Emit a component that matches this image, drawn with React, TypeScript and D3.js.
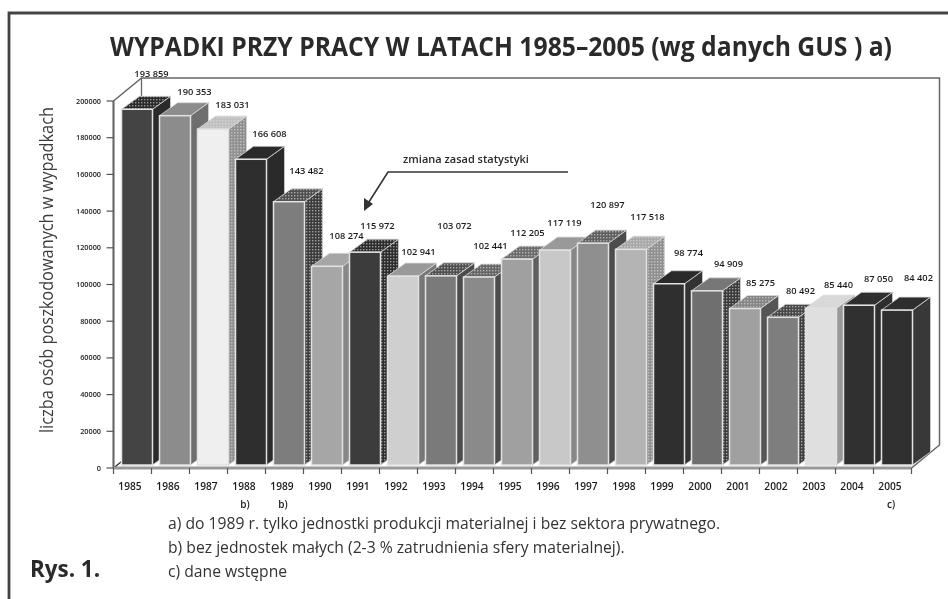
import React from "react";
import * as d3 from "d3";

const years = ["1985","1986","1987","1988","1989","1990","1991","1992","1993","1994","1995","1996","1997","1998","1999","2000","2001","2002","2003","2004","2005"];
const values = [193859,190353,183031,166608,143482,108274,115972,102941,103072,102441,112205,117119,120897,117518,98774,94909,85275,80492,85440,87050,84402];
const valueLabels = ["193 859","190 353","183 031","166 608","143 482","108 274","115 972","102 941","103 072","102 441","112 205","117 119","120 897","117 518","98 774","94 909","85 275","80 492","85 440","87 050","84 402"];
const frontColors = ["#444","#8c8c8c","#efefef","#2e2e2e","#7d7d7d","#a6a6a6","#3c3c3c","#cfcfcf","#7a7a7a","#8a8a8a","#a0a0a0","#c8c8c8","#8f8f8f","#b4b4b4","#2f2f2f","#6f6f6f","#a0a0a0","#7e7e7e","#dfdfdf","#303030","#303030"];
const topColors = ["#2a2a2a","#8c8c8c","#c0c0c0","#2a2a2a","#505050","#a6a6a6","#2e2e2e","#999","#505050","#666","#6c6c6c","#999","#606060","#a8a8a8","#2a2a2a","#777","#858585","#484848","#d8d8d8","#2e2e2e","#2e2e2e"];
const sideColors = ["#2a2a2a","#6e6e6e","#909090","#2a2a2a","#3c3c3c","#888","#2e2e2e","#777","#4c4c4c","#4c4c4c","#606060","#888","#4c4c4c","#909090","#333","#3c3c3c","#555","#404040","#999","#2e2e2e","#383838"];
const dottedTop = [1,0,1,0,1,0,1,0,1,1,1,0,1,1,0,0,1,1,1,0,0];
const dottedSide = [0,0,1,0,1,0,1,0,0,0,0,0,0,1,0,1,0,1,0,0,0];
const labelDx = [14.5,19.5,19.5,18.5,17.5,19.5,12.5,15.5,13.5,11.5,10.5,9.5,14.5,16.5,19.5,21.5,15.5,17.5,17.5,19.5,21.5];
const labelDy = [-35,-24,-24,-25,-31,-30,-26,-24,-50,-31,-26,-27,-38,-32,-31,-27,-25.5,-26,-23,-26,-32];
const yTicks = [0,20000,40000,60000,80000,100000,120000,140000,160000,180000,200000];
const yearNotes: Record<string,string> = { "1988": "b)", "1989": "b)", "2005": "c)" };
const footnotes = [
  "a) do 1989 r. tylko jednostki produkcji materialnej i bez sektora prywatnego.",
  "b) bez jednostek małych (2-3 % zatrudnienia sfery materialnej).",
  "c) dane wstępne",
];
const TITLE = "WYPADKI PRZY PRACY W LATACH 1985–2005 (wg  danych GUS ) a)";
const YTITLE = "liczba osób poszkodowanych w wypadkach";

const FONT = "'Open Sans', sans-serif";
const x = d3.scaleBand<string>().domain(years).range([113.5, 911.5]);
const y = d3.scaleLinear().domain([0, 200000]).range([468, 101]);
const wallDx = 28, wallDy = 23;
const depthDx = 18, depthDy = 13;
const barInset = 8, barW = 31, lift = 3;
const pts = (p: number[][]) => p.map((q) => q.join(",")).join(" ");

export default function App() {
  const x0 = x.range()[0], x1 = x.range()[1], y0 = y(0), yT = y(200000);
  return (
    <svg width={948} height={599} style={{ position: "absolute", left: 0, top: 0, background: "#fff", filter: "blur(0.6px)" }} fontFamily={FONT}>
      <defs>
        <pattern id="dots" width="3" height="3" patternUnits="userSpaceOnUse">
          <rect x="0" y="0" width="1.4" height="1.4" fill="#e0e0e0" fillOpacity="0.6" />
        </pattern>
      </defs>
      <g>
        <path d="M948,13H9V599" fill="none" stroke="#444" strokeWidth={2.8} />
        <text x={110} y={56} fontSize={26.5} fontWeight={700} fill="#2a2a2a" textLength={782} lengthAdjust="spacingAndGlyphs">{TITLE}</text>

        <path d={`M${x0},${yT}L${x0 + wallDx},${yT - wallDy}H${x1 + wallDx}V${y0 - wallDy}L${x1},${y0}H${x0}Z`} fill="none" stroke="#666" strokeWidth={1.5} />
        <path d={`M${x0 + wallDx},${yT - wallDy}V${y0 - wallDy}`} fill="none" stroke="#666" strokeWidth={1.3} />
        <path d={`M${x0},${yT}V${y0}`} stroke="#666" strokeWidth={1.8} />
        <path d={`M${x0},${y0}L${x0 + 10},${y0 - 8}`} stroke="#333" strokeWidth={1.5} />
        <path d={`M${x0},${y0}H${x1}`} stroke="#999" strokeWidth={3} />

        {yTicks.map((t) => (
          <g key={t}>
            <line x1={106.5} x2={x0} y1={y(t)} y2={y(t)} stroke="#555" strokeWidth={1.2} />
            <text x={101} y={y(t) + 2.5} textAnchor="end" fontSize={7.3} fontWeight={600} fill="#222">{t}</text>
          </g>
        ))}
        {[...years, ""].map((yr, i) => {
          const tx = x0 + i * x.bandwidth();
          return <line key={i} x1={tx} x2={tx} y1={y0} y2={y0 + 6} stroke="#555" strokeWidth={1.2} />;
        })}

        {years.map((yr, i) => {
          const l = (x(yr) as number) + barInset;
          const r = l + barW;
          const t = y(values[i]) - lift;
          const b = y0 - lift;
          const top = [[l, t], [r, t], [r + depthDx, t - depthDy], [l + depthDx, t - depthDy]];
          const side = [[r, t], [r + depthDx, t - depthDy], [r + depthDx, b - depthDy], [r, b]];
          return (
            <g key={yr}>
              <polygon points={pts(side)} fill={sideColors[i]} stroke="#d0d0d0" strokeWidth={0.8} />
              {dottedSide[i] ? <polygon points={pts(side)} fill="url(#dots)" /> : null}
              <polygon points={pts(top)} fill={topColors[i]} stroke="#d8d8d8" strokeWidth={0.8} />
              {dottedTop[i] ? <polygon points={pts(top)} fill="url(#dots)" /> : null}
              <rect x={l} y={t} width={barW} height={b - t} fill={frontColors[i]} stroke="#e2e2e2" strokeWidth={1.5} />
            </g>
          );
        })}

        {years.map((yr, i) => {
          const cx = (x(yr) as number) + barInset + barW / 2;
          const t = y(values[i]) - lift;
          return (
            <text key={yr} x={cx + labelDx[i]} y={t + labelDy[i] + 3} textAnchor="middle" fontSize={9.3} fontWeight={600} fill="#1c1c1c">{valueLabels[i]}</text>
          );
        })}

        {years.map((yr) => {
          const cx = (x(yr) as number) + x.bandwidth() / 2 - 2.5;
          return (
            <g key={yr}>
              <text x={cx} y={489.5} textAnchor="middle" fontSize={10.2} fontWeight={600} fill="#1c1c1c">{yr}</text>
              {yearNotes[yr] ? <text x={cx + 1} y={507.5} textAnchor="middle" fontSize={10} fontWeight={600} fill="#1c1c1c">{yearNotes[yr]}</text> : null}
            </g>
          );
        })}

        <text transform="translate(53,270) rotate(-90)" textAnchor="middle" fontSize={17.5} fill="#3c3c3c" textLength={326} lengthAdjust="spacingAndGlyphs">{YTITLE}</text>

        <path d="M568,172H388L367,205" fill="none" stroke="#333" strokeWidth={1.6} />
        <path d="M364,211L364,198L373,204Z" fill="#333" />
        <text x={466} y={163} textAnchor="middle" fontSize={11} fontWeight={600} fill="#2a2a2a">zmiana zasad statystyki</text>

        {footnotes.map((f, i) => (
          <text key={i} x={168} y={529 + i * 24} fontSize={15.7} fill="#333">{f}</text>
        ))}
        <text x={30} y={577} fontSize={22.4} fontWeight={700} fill="#2a2a2a">Rys. 1.</text>
      </g>
    </svg>
  );
}
